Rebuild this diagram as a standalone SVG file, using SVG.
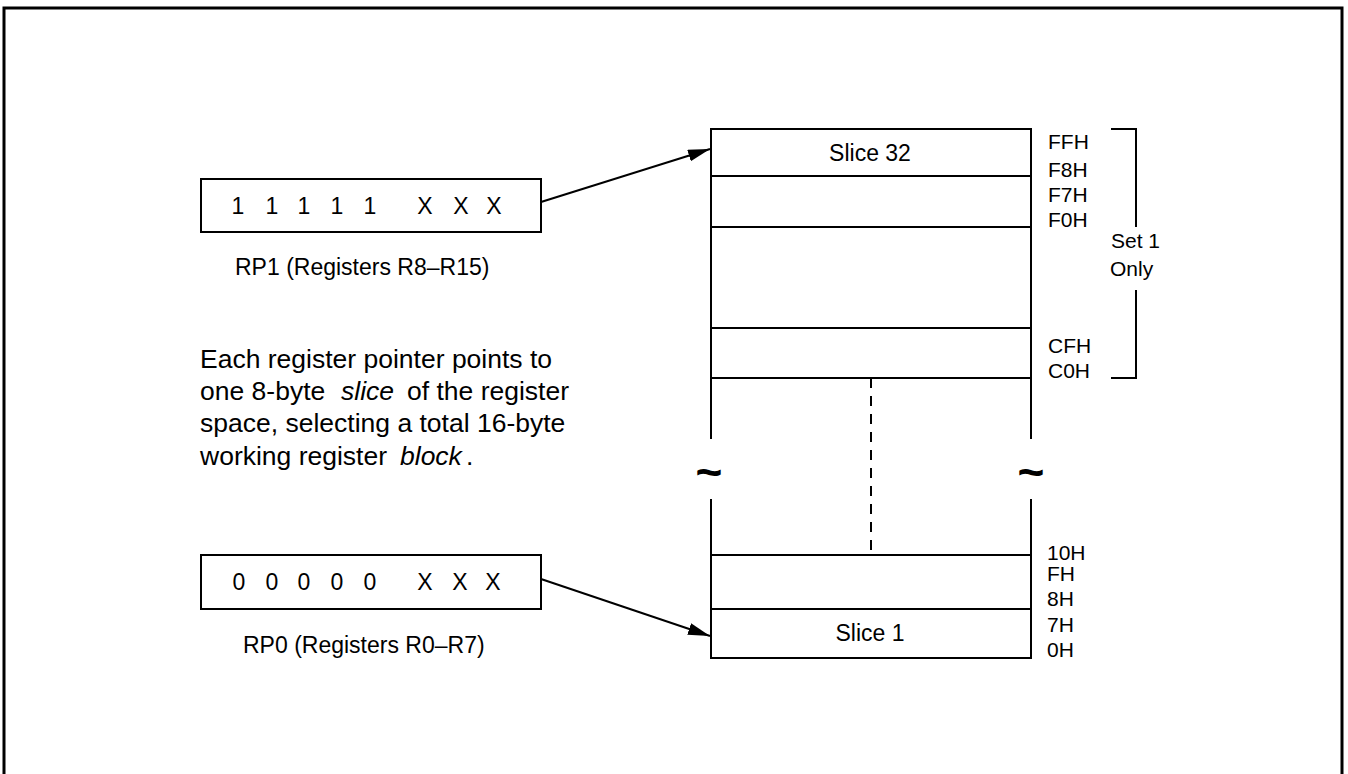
<svg xmlns="http://www.w3.org/2000/svg" width="1348" height="774" viewBox="0 0 1348 774">
<style>
text { font-family: "Liberation Sans", Arial, sans-serif; fill: #000; }
.box { fill: #fff; stroke: #000; stroke-width: 2; }
.ln { stroke: #000; stroke-width: 2; fill: none; }
.bits { font-size: 23px; text-anchor: middle; }
.lbl { font-size: 23px; }
.set { font-size: 21px; }
.para { font-size: 26.5px; }
.hex { font-size: 21px; }
.slice { font-size: 23px; text-anchor: middle; }
.tilde { font-size: 46px; font-weight: bold; text-anchor: middle; }
</style>
<defs>
<marker id="ah" markerUnits="userSpaceOnUse" markerWidth="24" markerHeight="13" refX="22" refY="6" orient="auto">
<path d="M0,0 L22,6 L0,12 z" fill="#000"/>
</marker>
</defs>
<rect x="4" y="8" width="1338" height="800" fill="none" stroke="#000" stroke-width="3"/>

<g id="rp1">
<rect class="box" x="201" y="179" width="340" height="53"/>
<text class="bits" y="214" x="238 272 304 337 370 425 461 494">11111XXX</text>
<text class="lbl" x="235" y="275">RP1 (Registers R8–R15)</text>
</g>

<g id="rp0">
<rect class="box" x="201" y="555" width="340" height="54"/>
<text class="bits" y="590" x="239 272 304 337 370 425 460 493">00000XXX</text>
<text class="lbl" x="243" y="653">RP0 (Registers R0–R7)</text>
</g>

<g id="note">
<text class="para" x="200" y="368">Each register pointer points to</text>
<text class="para" y="400"><tspan x="200">one 8-byte</tspan><tspan x="341" font-style="italic">slice</tspan><tspan x="407">of the register</tspan></text>
<text class="para" x="200" y="432">space, selecting a total 16-byte</text>
<text class="para" y="465"><tspan x="200">working register</tspan><tspan x="400" font-style="italic">block</tspan><tspan x="466">.</tspan></text>
</g>

<g id="register-file">
<path class="ln" d="M711,439 V129 H1031 V439 M711,499 V658 H1031 V499"/>
<path class="ln" d="M711,176 H1031 M711,227 H1031 M711,328 H1031 M711,378 H1031 M711,555 H1031 M711,609 H1031"/>
<path class="ln" d="M871,378 V555" stroke-dasharray="10 8"/>
<text class="tilde" x="709" y="488">~</text>
<text class="tilde" x="1031" y="488">~</text>
<text class="slice" x="870" y="161">Slice 32</text>
<text class="slice" x="870" y="641">Slice 1</text>
</g>

<g id="addresses">
<text class="hex" x="1048" y="149">FFH</text>
<text class="hex" x="1048" y="177">F8H</text>
<text class="hex" x="1048" y="202">F7H</text>
<text class="hex" x="1048" y="227">F0H</text>
<text class="hex" x="1048" y="353">CFH</text>
<text class="hex" x="1048" y="378">C0H</text>
<text class="hex" x="1047" y="560">10H</text>
<text class="hex" x="1047" y="581">FH</text>
<text class="hex" x="1047" y="606">8H</text>
<text class="hex" x="1047" y="632">7H</text>
<text class="hex" x="1047" y="657">0H</text>
</g>

<g id="set1-bracket">
<path class="ln" d="M1111,129 H1136 V227 M1136,290 V378 H1111"/>
<text class="set" x="1111" y="248">Set 1</text>
<text class="set" x="1110" y="276">Only</text>
</g>

<g id="connectors">
<line class="ln" x1="541" y1="202" x2="710" y2="149" marker-end="url(#ah)"/>
<line class="ln" x1="541" y1="579" x2="710" y2="636" marker-end="url(#ah)"/>
</g>
</svg>
